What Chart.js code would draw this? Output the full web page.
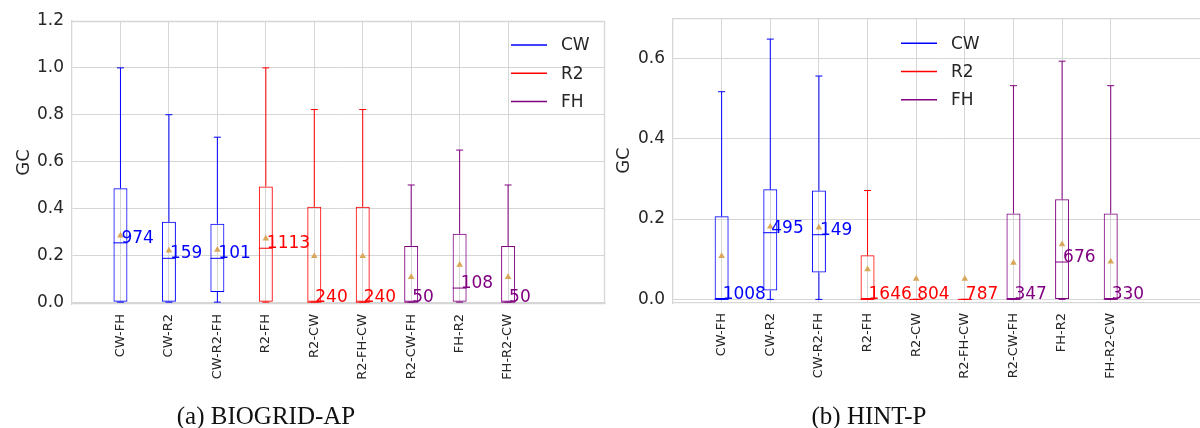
<!DOCTYPE html>
<html>
<head>
<meta charset="utf-8">
<script src="https://cdn.jsdelivr.net/npm/chart.js@4.4.1/dist/chart.umd.min.js"></script>
<style>
  html, body { margin: 0; padding: 0; background: #fff; }
  #page { position: relative; width: 1200px; height: 428px; overflow: hidden; }
  .panel { position: absolute; top: 0; }
  .caption {
    position: absolute; top: 402px; transform: translateX(-50%);
    font: 25px "Liberation Serif", "DejaVu Serif", serif; color: #111; white-space: nowrap;
  }
</style>
</head>
<body>
<div id="page">
  <div class="panel" style="left:0"><canvas id="chartAP" width="612" height="428"></canvas></div>
  <div class="panel" style="left:600px"><canvas id="chartHP" width="620" height="428"></canvas></div>
  <div class="caption" style="left:266px">(a) BIOGRID-AP</div>
  <div class="caption" style="left:869px">(b) HINT-P</div>
</div>
<script>
// method pairs on the x axis, and the method each pair starts with
const pairs = ['CW-FH', 'CW-R2', 'CW-R2-FH', 'R2-FH', 'R2-CW', 'R2-FH-CW', 'R2-CW-FH', 'FH-R2', 'FH-R2-CW'];
const pairGroup = ['CW', 'CW', 'CW', 'R2', 'R2', 'R2', 'FH', 'FH', 'FH'];
const legendGroups = ['CW', 'R2', 'FH'];

// BIOGRID-AP box stats
const apMin    = [0, 0, 0, 0, 0, 0, 0, 0, 0];
const apQ1     = [0, 0, 0.043, 0, 0, 0, 0, 0, 0];
const apMedian = [0.253, 0.187, 0.187, 0.23, 0, 0, 0, 0.06, 0];
const apQ3     = [0.486, 0.343, 0.335, 0.494, 0.407, 0.407, 0.24, 0.292, 0.24];
const apMax    = [1.0, 0.8, 0.704, 1.0, 0.822, 0.822, 0.5, 0.649, 0.5];
const apMean   = [0.284, 0.22, 0.223, 0.271, 0.196, 0.196, 0.107, 0.159, 0.107];
const apCount  = [974, 159, 101, 1113, 240, 240, 50, 108, 50];
const apTicks  = [0, 0.2, 0.4, 0.6, 0.8, 1.0, 1.2];

// HINT-P box stats
const hpMin    = [0, 0, 0, 0, 0, 0, 0, 0, 0];
const hpQ1     = [0, 0.022, 0.067, 0, 0, 0, 0, 0, 0];
const hpMedian = [0, 0.166, 0.161, 0, 0, 0, 0, 0.093, 0];
const hpQ3     = [0.207, 0.274, 0.271, 0.11, 0, 0, 0.214, 0.249, 0.214];
const hpMax    = [0.517, 0.648, 0.556, 0.271, 0, 0, 0.532, 0.593, 0.532];
const hpMean   = [0.108, 0.181, 0.179, 0.075, 0.051, 0.051, 0.091, 0.137, 0.094];
const hpCount  = [1008, 495, 149, 1646, 804, 787, 347, 676, 330];
const hpTicks  = [0, 0.2, 0.4, 0.6];

const groupColor = { CW: '#0000ff', R2: '#ff0000', FH: '#800080' };
const meanColor = '#d9a75a';
const gridColor = '#d6d6d6';
const textColor = '#262626';
const boxWidth = 14;

Chart.defaults.font.family = '"DejaVu Sans", sans-serif';
Chart.defaults.color = textColor;

// whiskers, caps and medians for the box dataset, counts and legend on top
const boxPlotParts = {
  id: 'boxPlotParts',
  beforeDatasetsDraw(chart) {
    const { ctx, chartArea: a } = chart;
    ctx.save();
    ctx.strokeStyle = gridColor;
    ctx.lineWidth = 1.3;
    ctx.beginPath();
    ctx.moveTo(a.left, a.top + 0.5);
    ctx.lineTo(a.right, a.top + 0.5);
    ctx.moveTo(a.right - 0.5, a.top);
    ctx.lineTo(a.right - 0.5, a.bottom);
    ctx.stroke();
    ctx.restore();
  },
  afterDatasetDraw(chart, args, opts) {
    if (!chart.data.datasets[args.index].isBox) return;
    const { ctx, scales: { x, y } } = chart;
    const s = opts.stats;
    ctx.save();
    ctx.lineWidth = 1;
    pairs.forEach((p, i) => {
      const cx = x.getPixelForValue(i + 1);
      const half = boxWidth / 2;
      ctx.strokeStyle = groupColor[pairGroup[i]];
      ctx.beginPath();
      // lower whisker and cap
      if (s.q1[i] > s.min[i]) {
        ctx.moveTo(cx, y.getPixelForValue(s.min[i]));
        ctx.lineTo(cx, y.getPixelForValue(s.q1[i]));
      }
      ctx.moveTo(cx - half / 2, y.getPixelForValue(s.min[i]));
      ctx.lineTo(cx + half / 2, y.getPixelForValue(s.min[i]));
      // upper whisker and cap
      if (s.max[i] > s.q3[i]) {
        ctx.moveTo(cx, y.getPixelForValue(s.q3[i]));
        ctx.lineTo(cx, y.getPixelForValue(s.max[i]));
      }
      ctx.moveTo(cx - half / 2, y.getPixelForValue(s.max[i]));
      ctx.lineTo(cx + half / 2, y.getPixelForValue(s.max[i]));
      // median
      ctx.moveTo(cx - half, y.getPixelForValue(s.median[i]));
      ctx.lineTo(cx + half, y.getPixelForValue(s.median[i]));
      ctx.stroke();
    });
    ctx.restore();
  },
  afterDatasetsDraw(chart, args, opts) {
    const { ctx, chartArea: a, scales: { x, y } } = chart;
    const s = opts.stats;
    ctx.save();
    ctx.font = '17px "DejaVu Sans"';
    ctx.textAlign = 'left';
    ctx.textBaseline = 'alphabetic';
    pairs.forEach((p, i) => {
      ctx.fillStyle = groupColor[pairGroup[i]];
      ctx.fillText(String(s.count[i]), x.getPixelForValue(i + 1) + 1, y.getPixelForValue(s.median[i]));
    });
    // legend inside the plot
    ctx.textBaseline = 'middle';
    legendGroups.forEach((g, k) => {
      const lx = a.left + opts.legendX;
      const ly = a.top + opts.legendY + k * 28.3;
      ctx.strokeStyle = groupColor[g];
      ctx.lineWidth = 1.5;
      ctx.beginPath();
      ctx.moveTo(lx, ly);
      ctx.lineTo(lx + 36, ly);
      ctx.stroke();
      ctx.fillStyle = textColor;
      ctx.fillText(g, lx + 50, ly + 1);
    });
    ctx.restore();
  }
};

function makeBoxChart(id, stats, yTicks, yMin, yMax, pad, xHeight, legendX, legendY) {
  const colors = pairGroup.map(g => groupColor[g]);
  return new Chart(document.getElementById(id), {
    type: 'bar',
    data: {
      datasets: [
        {
          type: 'scatter',
          data: stats.mean.map((m, i) => ({ x: i + 1, y: m })),
          pointStyle: 'triangle',
          pointRadius: 3.8,
          backgroundColor: meanColor,
          borderWidth: 0
        },
        {
          isBox: true,
          data: stats.q1.map((q, i) => ({ x: i + 1, y: [q, stats.q3[i]] })),
          backgroundColor: 'rgba(0,0,0,0)',
          borderColor: colors,
          borderWidth: 1,
          borderSkipped: false,
          inflateAmount: 0,
          barThickness: boxWidth,
          grouped: false
        }
      ]
    },
    options: {
      responsive: false,
      animation: false,
      layout: { padding: pad },
      plugins: {
        legend: { display: false },
        tooltip: { enabled: false },
        boxPlotParts: { stats, legendX, legendY }
      },
      scales: {
        x: {
          type: 'linear',
          min: 0,
          max: 11,
          offset: false,
          afterBuildTicks: s => { s.ticks = pairs.map((p, i) => ({ value: i + 1 })); },
          afterFit: s => { s.height = xHeight; },
          ticks: {
            autoSkip: false,
            minRotation: 90,
            maxRotation: 90,
            padding: 10,
            color: textColor,
            font: { size: 13 },
            callback: v => pairs[Math.round(v) - 1]
          },
          grid: { color: gridColor, drawTicks: false, offset: false },
          border: { color: gridColor, width: 1.3 }
        },
        y: {
          min: yMin,
          max: yMax,
          afterBuildTicks: s => { s.ticks = yTicks.map(v => ({ value: v })); },
          afterFit: s => { s.width = pad.yWidth; },
          ticks: {
            padding: 8,
            color: textColor,
            font: { size: 17 },
            callback: v => v.toFixed(1)
          },
          grid: { color: gridColor, drawTicks: false },
          border: { color: gridColor, width: 1.3 },
          title: {
            display: true,
            text: 'GC',
            color: textColor,
            font: { size: 18 },
            padding: { top: 14, bottom: 0 }
          }
        }
      }
    },
    plugins: [boxPlotParts]
  });
}

makeBoxChart('chartAP',
  { min: apMin, q1: apQ1, median: apMedian, q3: apQ3, max: apMax, mean: apMean, count: apCount },
  apTicks, -0.008, 1.2,
  { top: 21, right: 7, left: 0, bottom: 0, yWidth: 72 }, 124, 439, 24);

makeBoxChart('chartHP',
  { min: hpMin, q1: hpQ1, median: hpMedian, q3: hpQ3, max: hpMax, mean: hpMean, count: hpCount },
  hpTicks, -0.009, 0.7,
  { top: 14, right: 12, left: 0, bottom: 0, yWidth: 73 }, 125, 228, 25);
</script>
</body>
</html>
